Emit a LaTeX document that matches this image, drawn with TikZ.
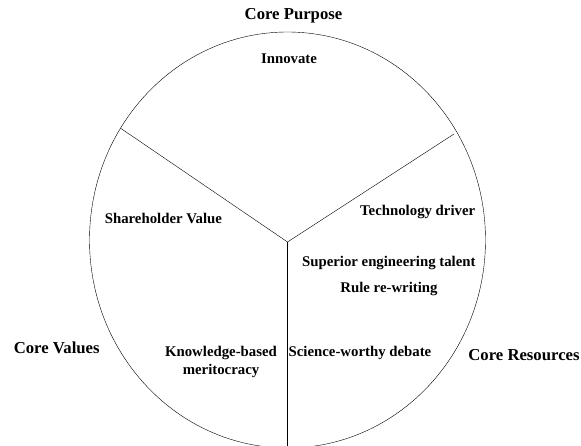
\documentclass[tikz,border=0pt]{standalone}
\usepackage{fontspec}
\setmainfont{Liberation Serif}
\tikzset{
  item/.style={font=\fontsize{14.8}{17.7}\selectfont\bfseries, inner sep=0pt, align=center},
  core/.style={font=\fontsize{16.7}{20}\selectfont\bfseries, inner sep=0pt},
}
\begin{document}
\begin{tikzpicture}[x=1pt,y=-1pt]
\useasboundingbox (0,0) rectangle (581,446);
\clip (0,0) rectangle (581,446);
\draw (287.5,240) ellipse [x radius=198pt, y radius=208pt];
\coordinate (hub) at (287.5,242);
\coordinate (spokeL) at (120.7,128.3);
\coordinate (spokeR) at (454,134);
\coordinate (spokeB) at (287.5,450);
\foreach \e in {spokeL,spokeR,spokeB}
{
	\draw (hub) -- (\e);
}
\node[core] (purpose) at (293.5,16) {Core Purpose};
\node[core] (values) at (56.7,347.7) {Core Values};
\node[core] (resources) at (524,355) {Core Resources};
\node[item] (innovate) at (289,58.7) {Innovate};
\node[item] (holder) at (163.4,218.3) {Shareholder Value};
\node[item] (meritocracy) at (221,362) {Knowledge-based\\meritocracy};
\node[item] (techdriver) at (417.7,212.3) {Technology driver};
\node[item] (talent) at (388.8,263.3) {Superior engineering talent};
\node[item] (rules) at (389,289.3) {Rule re-writing};
\node[item] (debate) at (360,353.3) {Science-worthy debate};
\end{tikzpicture}
\end{document}
